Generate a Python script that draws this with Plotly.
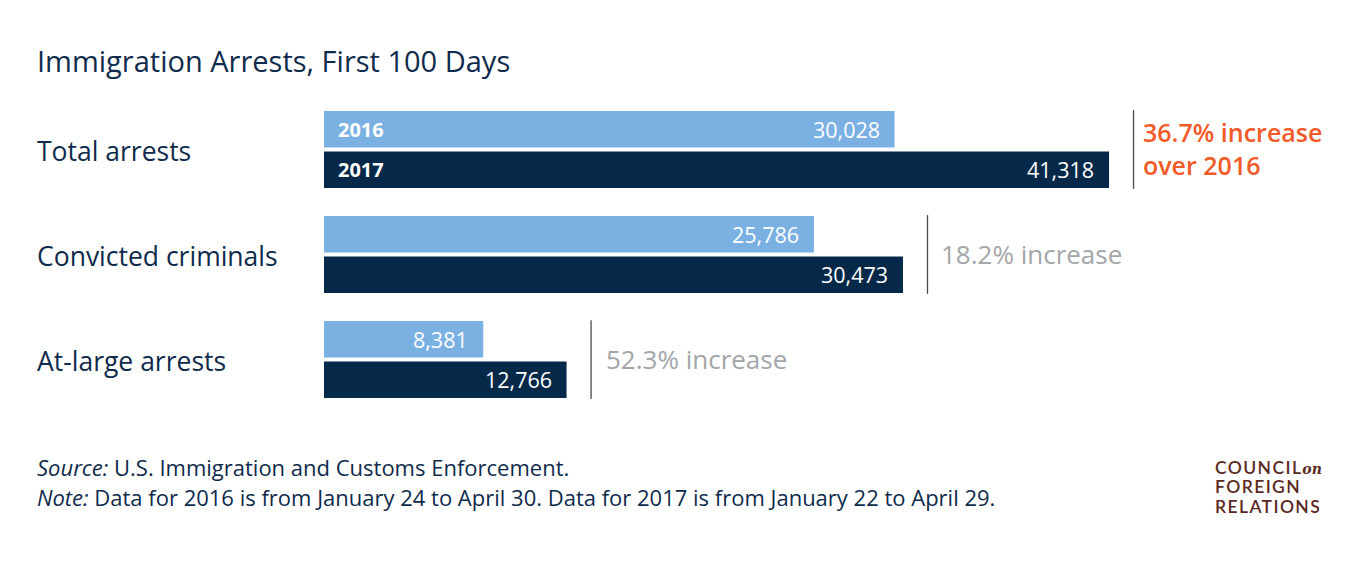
import plotly.graph_objects as go

# ---- data ----
categories = ["Total arrests", "Convicted criminals", "At-large arrests"]
arrests_2016 = [30028, 25786, 8381]
arrests_2017 = [41318, 30473, 12766]
year_labels = ["2016", "2017"]
change_labels = ["36.7% increase<br>over 2016", "18.2% increase", "52.3% increase"]
title_text = "Immigration Arrests, First 100 Days"
source_text = "<i>Source:</i> U.S. Immigration and Customs Enforcement."
note_text = "<i>Note:</i> Data for 2016 is from January 24 to April 30. Data for 2017 is from January 22 to April 29."
logo_lines = ["COUNCIL", "FOREIGN", "RELATIONS"]
logo_suffix = "on"

# ---- styles ----
W, H = 1361, 569
LIGHT = "#7BB0E3"
DARK = "#062849"
NAVY = "#0F2B4C"
ORANGE = "#F15A29"
GRAY = "#A3A6A9"
BROWN = "#5A2A22"
FONT = "Open Sans"
change_colors = [ORANGE, GRAY, GRAY]
change_weights = [600, 400, 400]
change_sizes = [25, 26, 26]
change_pad = [7, 12, 13]

x_left_px = 324
px_per_unit = 0.01900
x_max = (W - x_left_px) / px_per_unit
group_px = 105.0
center0_px = 149.5
y_top = -center0_px / group_px
y_bot = (H - center0_px) / group_px
ypos = list(range(len(categories)))

fig = go.Figure()
fig.add_trace(go.Bar(y=ypos, x=arrests_2016, orientation="h", marker=dict(color=LIGHT, line=dict(width=0)),
                     name="2016", hoverinfo="skip"))
fig.add_trace(go.Bar(y=ypos, x=arrests_2017, orientation="h", marker=dict(color=DARK, line=dict(width=0)),
                     name="2017", hoverinfo="skip"))

annotations = []
shapes = []
half_slot = 40.5 / group_px / 2  # offset of each bar center from group center (data units)
for i, (v16, v17) in enumerate(zip(arrests_2016, arrests_2017)):
    for j, v in enumerate((v16, v17)):
        yc = i + (-1 if j == 0 else 1) * half_slot
        annotations.append(dict(x=v, y=yc, xref="x", yref="y", text=f"{v:,}", showarrow=False,
                                xanchor="right", yanchor="middle", xshift=-13,
                                font=dict(family=FONT, size=21.5, color="white")))
        if i == 0:
            annotations.append(dict(x=0, y=yc, xref="x", yref="y", text=f"<b>{year_labels[j]}</b>",
                                    showarrow=False, xanchor="left", yanchor="middle", xshift=12,
                                    font=dict(family=FONT, size=20, color="white")))
    vmax = max(v16, v17)
    line_x = vmax + 24.5 / px_per_unit
    shapes.append(dict(type="line", xref="x", yref="y", x0=line_x, x1=line_x,
                       y0=i - 0.375, y1=i + 0.375, line=dict(color="#4A4A4A", width=1.3)))
    annotations.append(dict(x=line_x, y=i, xref="x", yref="y", text=change_labels[i], showarrow=False,
                            xanchor="left", yanchor="middle", xshift=change_pad[i], yshift=1, align="left",
                            font=dict(family=FONT, size=change_sizes[i], color=change_colors[i],
                                      weight=change_weights[i])))
    annotations.append(dict(x=35 / W, y=i, xref="paper", yref="y", text=categories[i], showarrow=False,
                            xanchor="left", yanchor="middle", yshift=-1,
                            font=dict(family=FONT, size=26.5, color=NAVY)))

annotations.append(dict(x=35 / W, y=1 - 60 / H, xref="paper", yref="paper", text=title_text, showarrow=False,
                        xanchor="left", yanchor="middle", font=dict(family=FONT, size=29, color=NAVY)))
annotations.append(dict(x=35 / W, y=1 - 467 / H, xref="paper", yref="paper", text=source_text, showarrow=False,
                        xanchor="left", yanchor="middle", font=dict(family=FONT, size=22, color=NAVY)))
annotations.append(dict(x=35 / W, y=1 - 497 / H, xref="paper", yref="paper", text=note_text, showarrow=False,
                        xanchor="left", yanchor="middle", font=dict(family=FONT, size=22, color=NAVY)))
for k, txt in enumerate(logo_lines):
    t = f"<span style='letter-spacing:1.4px'>{txt}</span>"
    if k == 0:
        t += f"<span style='font-family:DejaVu Serif;font-size:14px'><i>{logo_suffix}</i></span>"
    annotations.append(dict(x=1213 / W, y=1 - (467 + 19.5 * k) / H, xref="paper", yref="paper",
                            text=t, showarrow=False, xanchor="left", yanchor="middle", align="left",
                            font=dict(family="Lato", size=17.5, color=BROWN, weight=600)))

fig.update_layout(
    width=W, height=H, autosize=False,
    margin=dict(l=0, r=0, t=0, b=0),
    paper_bgcolor="white", plot_bgcolor="white",
    barmode="group", bargap=0.229, bargroupgap=0.0988,
    showlegend=False,
    xaxis=dict(domain=[x_left_px / W, 1], range=[0, x_max], visible=False, fixedrange=True),
    yaxis=dict(domain=[0, 1], range=[y_bot, y_top], visible=False, fixedrange=True),
    annotations=annotations, shapes=shapes,
)

fig.write_html("out.html", config={"displayModeBar": False})
